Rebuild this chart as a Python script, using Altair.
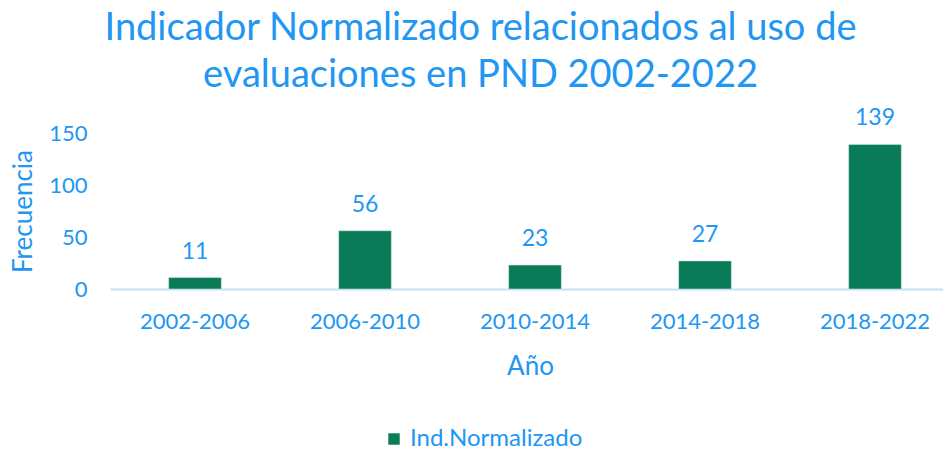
import altair as alt
import pandas as pd

periods = ["2002-2006", "2006-2010", "2010-2014", "2014-2018", "2018-2022"]
values = [11, 56, 23, 27, 139]
series = ["Ind.Normalizado"] * len(periods)

df = pd.DataFrame({"Periodo": periods, "Valor": values, "Serie": series})

BLUE = "#2196F3"
GREEN = "#0A7B58"
FONT = "Lato"

xscale = alt.Scale(range=[0, 850], paddingInner=0.69, paddingOuter=0.345)
yscale = alt.Scale(domain=[0, 150], nice=False)

base = alt.Chart(df)

bars = base.mark_bar(color=GREEN, stroke="#d9efe6", strokeWidth=0.5).encode(
    x=alt.X(
        "Periodo:N",
        sort=periods,
        scale=xscale,
        axis=alt.Axis(
            title="Año",
            labelAngle=0,
            ticks=False,
            domainColor="#C5DFF5",
            domainWidth=2,
            labelPadding=22,
            titlePadding=21,
            titleX=420,
        ),
    ),
    y=alt.Y(
        "Valor:Q",
        scale=yscale,
        axis=alt.Axis(
            title="Frecuencia",
            values=[0, 50, 100, 150],
            domain=False,
            ticks=False,
            grid=False,
            labelPadding=23,
            titlePadding=12,
        ),
    ),
    fill=alt.Fill(
        "Serie:N",
        scale=alt.Scale(domain=["Ind.Normalizado"], range=[GREEN]),
        legend=alt.Legend(
            title=None,
            orient="none",
            legendX=272,
            legendY=294,
            symbolType="square",
            symbolSize=130,
            symbolStrokeWidth=0,
            labelFontSize=24,
            labelLimit=400,
            labelColor=BLUE,
            labelFont=FONT,
        ),
    ),
)

labels = base.mark_text(
    color=BLUE, fontSize=23, font=FONT, baseline="middle", dy=-26
).encode(
    x=alt.X("Periodo:N", sort=periods, scale=xscale),
    y=alt.Y("Valor:Q", scale=yscale),
    text="Valor:Q",
)

chart = (
    alt.layer(bars, labels)
    .properties(
        width=833,
        height=156,
        title=alt.TitleParams(
            text=["Indicador Normalizado relacionados al uso de", "evaluaciones en PND 2002-2022"],
            fontSize=38,
            font=FONT,
            fontWeight="normal",
            color=BLUE,
            anchor="middle",
            dx=-46,
            offset=12,
            lineHeight=47,
        ),
        autosize=alt.AutoSizeParams(type="none"),
        padding={"left": 102, "top": 125, "right": 0, "bottom": 164},
        background="white",
    )
    .configure_view(stroke=None)
    .configure_axis(
        labelFont=FONT,
        titleFont=FONT,
        labelFontSize=22,
        titleFontSize=26,
        labelColor=BLUE,
        titleColor=BLUE,
        titleFontWeight="normal",
    )
)

chart.save("out.html", embed_options={"renderer": "svg", "actions": False})
